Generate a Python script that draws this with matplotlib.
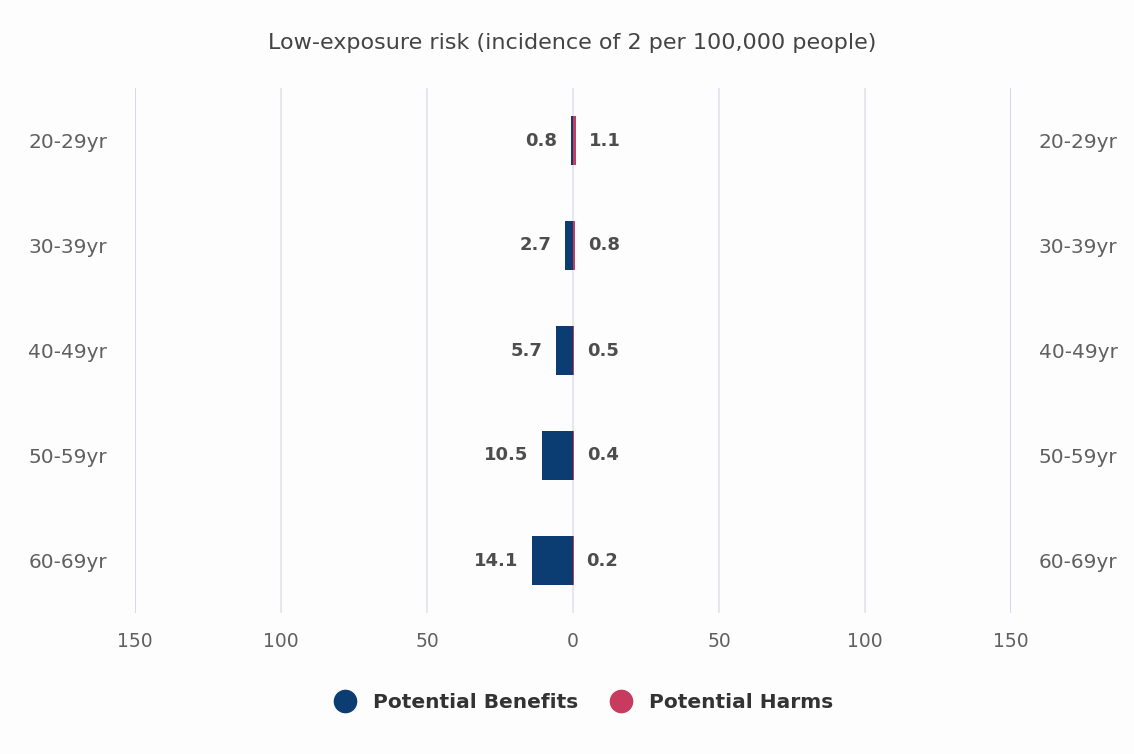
import matplotlib.pyplot as plt
from matplotlib.lines import Line2D

# data
ages = ['20-29yr', '30-39yr', '40-49yr', '50-59yr', '60-69yr']
benefits = [0.8, 2.7, 5.7, 10.5, 14.1]
harms = [1.1, 0.8, 0.5, 0.4, 0.2]
xticks = [-150, -100, -50, 0, 50, 100, 150]

blue = '#0b3d73'
red = '#c63b5e'

plt.rcParams['font.family'] = ['DejaVu Sans']

fig = plt.figure(figsize=(11.34, 7.54), dpi=100, facecolor='#fdfdfd')
ax = fig.add_axes([135 / 1134, 1 - 613 / 754, 876 / 1134, 525 / 754])
ax.set_facecolor('#fdfdfd')

pos = list(range(len(ages)))
ax.barh(pos, [-b for b in benefits], height=0.46, color=blue, zorder=3)
ax.barh(pos, harms, height=0.46, color=red, zorder=3)

# data labels
for i in pos:
    ax.annotate(f'{benefits[i]}', (-benefits[i], i), xytext=(-10, 0), textcoords='offset points',
                ha='right', va='center', fontsize=13, fontweight='bold', color='#4d4d4d')
    ax.annotate(f'{harms[i]}', (harms[i], i), xytext=(9, 0), textcoords='offset points',
                ha='left', va='center', fontsize=13, fontweight='bold', color='#4d4d4d')

ax.set_xlim(-150, 150)
ax.set_ylim(len(ages) - 0.5, -0.5)
ax.set_xticks(xticks)
ax.set_xticklabels([str(abs(t)) for t in xticks])
ax.set_yticks(pos)
ax.set_yticklabels(ages)
ax.tick_params(axis='x', length=0, pad=14, labelsize=13.5, labelcolor='#606060')
ax.tick_params(axis='y', length=0, pad=20, labelsize=14.5, labelcolor='#606060',
               labelleft=True, labelright=True)

# vertical grid lines
for t in xticks:
    c = '#ccd6e3' if abs(t) == 150 else '#e0e3e8'
    ax.axvline(t, color=c, lw=1.2, zorder=1)
for s in ax.spines.values():
    s.set_visible(False)

fig.text(572 / 1134, 1 - 43 / 754, 'Low-exposure risk (incidence of 2 per 100,000 people)',
         ha='center', va='center', fontsize=16, color='#444444')

handles = [Line2D([], [], marker='o', ls='', ms=16, color=blue),
           Line2D([], [], marker='o', ls='', ms=16, color=red)]
leg = fig.legend(handles, ['Potential Benefits', 'Potential Harms'], loc='center',
                 bbox_to_anchor=(579 / 1134, 1 - 703 / 754), ncol=2, frameon=False,
                 prop={'size': 14.5, 'weight': 'bold'}, handletextpad=0.4, columnspacing=1.1)
for t in leg.get_texts():
    t.set_color('#333333')

fig.savefig('out.png', dpi=100, facecolor=fig.get_facecolor())
